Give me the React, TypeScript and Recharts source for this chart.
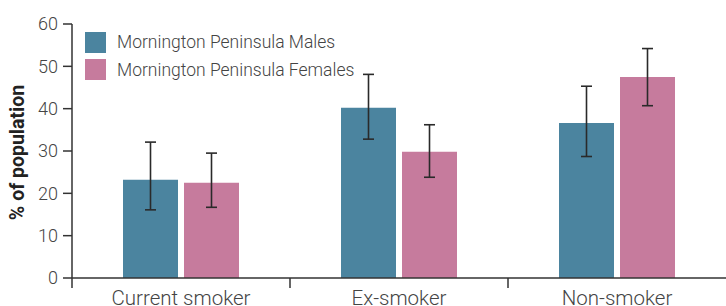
import React from "react";
import { BarChart, Bar, XAxis, YAxis, ErrorBar, Label } from "recharts";

// categories and values
const categories = ["Current smoker", "Ex-smoker", "Non-smoker"];
const malesValue = [23.2, 40.2, 36.6];
const malesLow = [16.1, 32.8, 28.7];
const malesHigh = [32.1, 48.1, 45.3];
const femalesValue = [22.5, 29.8, 47.5];
const femalesLow = [16.7, 23.8, 40.7];
const femalesHigh = [29.5, 36.2, 54.2];
const yTicks = [0, 10, 20, 30, 40, 50, 60];

const MALE = "#4b849f";
const FEMALE = "#c67b9d";
const FONT = "Roboto, 'Noto Sans', sans-serif";

const data = categories.map((name, i) => ({
  name,
  males: malesValue[i],
  malesErr: [malesValue[i] - malesLow[i], malesHigh[i] - malesValue[i]],
  females: femalesValue[i],
  femalesErr: [femalesValue[i] - femalesLow[i], femalesHigh[i] - femalesValue[i]],
}));

const legendItems = [
  { label: "Mornington Peninsula Males", color: MALE },
  { label: "Mornington Peninsula Females", color: FEMALE },
];

// legend sits over the plot, so it is drawn as plain html on top
function LegendBox() {
  return (
    <div style={{ position: "absolute", left: 85, top: 28.5 }}>
      {legendItems.map((it) => (
        <div key={it.label} style={{ display: "flex", alignItems: "center", height: 27.5 }}>
          <div style={{ width: 21, height: 21, background: it.color, marginRight: 11 }} />
          <span style={{ fontFamily: FONT, fontWeight: 300, fontSize: 17.5, color: "#444", whiteSpace: "nowrap" }}>
            {it.label}
          </span>
        </div>
      ))}
    </div>
  );
}

function CategoryTick(props: any) {
  const { x, y, payload } = props;
  const half = payload && payload.offset ? payload.offset : 109;
  return (
    <g>
      <line x1={x - half} y1={y} x2={x - half} y2={y + 10} stroke="#333" strokeWidth={1.5} />
      <text x={x} y={y + 27} textAnchor="middle" fontFamily={FONT} fontWeight={300} fontSize={20.5} fill="#444">
        {payload.value}
      </text>
    </g>
  );
}

function YTitle() {
  return (
    <text
      transform="translate(24,152.5) rotate(-90)"
      textAnchor="middle"
      fontFamily={FONT}
      fontWeight={700}
      fontSize={19.5}
      fill="#222"
    >
      % of population
    </text>
  );
}

export default function App() {
  return (
    <div style={{ position: "absolute", left: 0, top: 0, width: 726, height: 306, background: "#fff" }}>
      <BarChart
        width={726}
        height={306}
        data={data}
        margin={{ top: 24, right: 0, left: 0, bottom: 0 }}
        barSize={55}
        barGap={6}
      >
        <XAxis
          dataKey="name"
          height={28}
          tickLine={false}
          tickSize={0}
          tickMargin={0}
          axisLine={{ stroke: "#333", strokeWidth: 1.5 }}
          tick={<CategoryTick />}
          interval={0}
        />
        <YAxis
          width={72}
          domain={[0, 60]}
          ticks={yTicks}
          tickSize={9}
          tickMargin={5}
          axisLine={{ stroke: "#333", strokeWidth: 1.5 }}
          tickLine={{ stroke: "#333", strokeWidth: 1.5 }}
          tick={{ fontFamily: FONT, fontWeight: 300, fontSize: 18, fill: "#444" }}
        >
          <Label content={<YTitle />} />
        </YAxis>
        <Bar dataKey="males" fill={MALE} isAnimationActive={false}>
          <ErrorBar dataKey="malesErr" width={5.5} stroke="#2a2a2a" strokeWidth={1.6} />
        </Bar>
        <Bar dataKey="females" fill={FEMALE} isAnimationActive={false}>
          <ErrorBar dataKey="femalesErr" width={5.5} stroke="#2a2a2a" strokeWidth={1.6} />
        </Bar>
      </BarChart>
      <LegendBox />
    </div>
  );
}
